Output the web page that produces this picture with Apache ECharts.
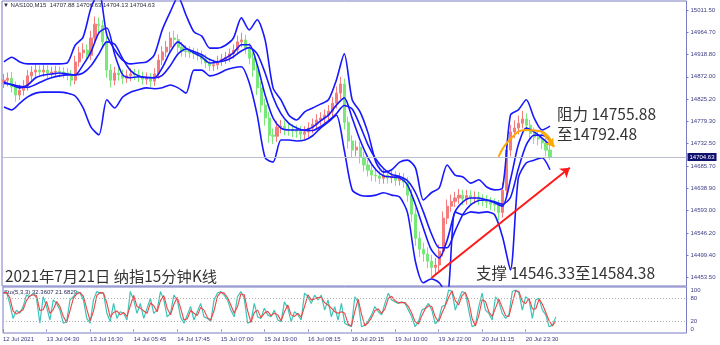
<!DOCTYPE html>
<html><head><meta charset="utf-8">
<script src="https://cdn.jsdelivr.net/npm/echarts@6/dist/echarts.min.js"></script>
<style>html,body{margin:0;padding:0;background:#fff;}#c{width:720px;height:345px;}</style>
</head><body><div id="c"></div>
<script>
// ---------- data ----------
const opens=[14860,14865,14869,14851,14834,14844,14853,14874,14882,14886,
14882,14886,14880,14882,14884,14882,14880,14876,14865,14903,
14922,14928,14917,14953,14982,14979,14945,14886,14865,14880,
14876,14869,14874,14878,14876,14872,14867,14869,14863,14878,
14907,14924,14934,14953,14950,14934,14926,14925,14922,14920,
14917,14909,14901,14895,14897,14905,14909,14913,14920,14928,
14945,14949,14932,14911,14886,14849,14813,14786,14750,14748,
14767,14769,14763,14762,14759,14758,14752,14757,14765,14773,
14782,14786,14792,14800,14817,14838,14857,14777,14738,14719,
14725,14704,14688,14677,14667,14665,14660,14667,14661,14665,
14656,14660,14652,14625,14585,14535,14512,14502,14487,14474,
14479,14508,14577,14602,14612,14619,14625,14617,14624,14618,
14621,14616,14614,14610,14606,14604,14589,14635,14719,14757,
14765,14775,14784,14771,14754,14746,14742,14734,14719];
const closes=[14865,14869,14851,14834,14844,14853,14874,14882,14886,14882,
14886,14880,14882,14884,14882,14880,14876,14865,14903,14922,
14928,14917,14953,14982,14979,14945,14886,14865,14880,14876,
14869,14874,14878,14876,14872,14867,14869,14863,14878,14907,
14924,14934,14953,14950,14934,14926,14925,14922,14920,14917,
14909,14901,14895,14897,14905,14909,14913,14920,14928,14945,
14949,14932,14911,14886,14849,14813,14786,14750,14748,14767,
14769,14763,14762,14759,14758,14752,14757,14765,14773,14782,
14786,14792,14800,14817,14838,14857,14777,14738,14719,14725,
14704,14688,14677,14667,14665,14660,14667,14661,14665,14656,
14660,14652,14625,14585,14535,14512,14502,14487,14474,14479,
14508,14577,14602,14612,14619,14625,14617,14624,14618,14621,
14616,14614,14610,14606,14604,14589,14635,14719,14757,14765,
14775,14784,14771,14754,14746,14742,14734,14719,14704.63];
const highs=[14878,14881,14882,14862,14856,14865,14886,14894,14898,14896,
14897,14896,14893,14895,14894,14892,14890,14886,14916,14935,
14942,14940,14968,14998,14996,14990,14956,14898,14893,14891,
14887,14886,14890,14889,14887,14883,14881,14880,14890,14919,
14936,14947,14966,14968,14961,14945,14938,14936,14933,14931,
14927,14919,14911,14908,14916,14920,14924,14931,14940,14958,
14964,14960,14943,14922,14898,14862,14826,14799,14764,14780,
14782,14781,14775,14773,14771,14769,14769,14777,14785,14794,
14798,14804,14813,14830,14852,14872,14868,14789,14750,14739,
14736,14716,14699,14688,14678,14676,14679,14678,14676,14675,
14672,14671,14663,14637,14598,14549,14526,14516,14500,14494,
14522,14591,14616,14626,14632,14638,14636,14636,14635,14633,
14632,14627,14625,14621,14618,14615,14651,14734,14772,14781,
14791,14801,14796,14782,14766,14758,14754,14745,14730];
const lows=[14849,14852,14839,14820,14824,14833,14843,14864,14872,14871,
14872,14869,14870,14872,14871,14869,14865,14852,14856,14893,
14910,14904,14907,14942,14964,14932,14870,14850,14854,14864,
14857,14859,14863,14865,14861,14856,14856,14851,14853,14868,
14896,14913,14924,14938,14922,14914,14913,14911,14909,14906,
14898,14890,14884,14884,14887,14895,14899,14903,14910,14918,
14934,14920,14898,14872,14834,14797,14770,14734,14732,14736,
14754,14750,14749,14746,14745,14740,14741,14746,14754,14762,
14771,14775,14781,14789,14806,14826,14762,14722,14704,14706,
14691,14674,14664,14654,14653,14648,14649,14649,14650,14644,
14645,14640,14611,14569,14519,14496,14486,14472,14456,14460,
14466,14497,14564,14590,14600,14607,14604,14605,14606,14607,
14604,14602,14598,14594,14591,14572,14578,14624,14706,14744,
14752,14764,14758,14739,14732,14729,14721,14706,14699];
// band lines, one value every second candle
const upperBand=[14903,14913,14903,14899,14899,14899,14899,14899,14901,14938,
14955,15016,15049,14959,14928,14907,14899,14901,14903,14918,
14970,15007,15039,15001,14966,14957,14932,14932,14938,14953,
14995,14970,14991,14949,14849,14824,14792,14782,14799,14807,
14815,14824,14865,14920,14824,14799,14755,14694,14673,14678,
14694,14698,14682,14615,14630,14640,14688,14667,14663,14650,
14657,14642,14636,14640,14792,14803,14824,14786,14761,14769];
const midLine=[14861,14855,14849,14855,14870,14876,14878,14880,14878,14876,
14897,14924,14964,14974,14918,14876,14870,14872,14870,14870,
14891,14924,14945,14932,14922,14913,14901,14903,14911,14922,
14939,14939,14897,14834,14786,14765,14761,14761,14761,14767,
14780,14792,14813,14828,14786,14740,14703,14678,14665,14663,
14661,14646,14605,14556,14511,14494,14531,14590,14611,14619,
14619,14615,14609,14602,14657,14730,14765,14757,14744,14730];
const slowLine=[14858,14856,14852,14850,14856,14864,14870,14874,14876,14876,
14880,14895,14920,14945,14940,14910,14885,14874,14871,14870,
14875,14895,14920,14930,14925,14918,14908,14903,14906,14914,
14926,14933,14920,14880,14830,14795,14775,14765,14760,14760,
14768,14780,14795,14812,14805,14770,14730,14700,14680,14668,
14664,14655,14630,14590,14545,14515,14515,14550,14585,14605,
14614,14615,14611,14606,14620,14680,14730,14750,14750,14742];
const lowerBand=[14809,14803,14817,14830,14838,14840,14840,14840,14838,14832,
14807,14767,14751,14824,14807,14830,14840,14845,14849,14847,
14849,14855,14849,14838,14886,14886,14874,14878,14886,14891,
14893,14859,14792,14703,14694,14740,14740,14738,14740,14749,
14765,14778,14792,14719,14636,14625,14623,14625,14630,14625,
14621,14588,14486,14442,14450,14442,14417,14590,14584,14590,
14588,14590,14584,14538,14469,14661,14692,14698,14703,14678];
const stochK=[92,96,66,28,49,41,58,87,83,92,79,16,83,58,24,75,66,49,16,20,
75,83,96,92,75,28,16,75,96,92,92,41,20,66,28,45,41,24,96,75,
41,66,28,54,79,41,49,96,75,32,41,87,75,32,16,37,58,24,45,66,
32,28,20,75,92,96,87,75,49,32,83,96,79,16,20,66,32,28,54,37,
32,49,24,20,70,54,20,45,37,24,92,83,66,87,75,87,49,75,32,58,
24,66,16,11,7,83,70,7,11,22,37,58,45,37,66,92,75,70,66,70,
66,49,32,7,20,49,54,66,49,14,24,58,62,100,96,49,75,96,92,49,
7,11,58,92,49,41,24,83,70,41,28,37,96,100,92,49,83,75,28,75,
79,49,37,7,11,32];
const stochD=[92,94,81,47,39,45,50,73,85,88,86,48,50,71,41,50,71,58,33,18,
48,79,90,94,84,52,22,46,86,94,92,67,31,43,47,37,43,33,60,86,
58,54,47,41,67,60,45,73,86,54,37,64,81,54,24,27,48,41,35,56,
49,30,24,48,84,94,92,81,62,41,58,90,88,48,18,43,49,30,41,46,
35,41,37,22,45,62,37,33,41,31,58,88,75,77,81,81,68,62,54,45,
41,45,41,14,9,45,77,39,9,17,30,48,52,41,52,79,84,73,68,68,
68,58,41,20,14,35,52,60,58,32,19,41,60,81,98,73,62,86,94,71,
28,9,35,75,71,45,33,54,77,56,35,33,67,98,96,71,66,79,52,52,
77,64,43,22,9,22];
const priceTicks=[15011.5,14964.7,14918.8,14872.0,14825.2,14779.3,14732.5,14685.7,14638.9,14593.0,14546.2,14499.4,14453.5];
const stochTicks=[0,20,80,100];
const stochLevels=[20,80];
const timeLabels=['12 Jul 2021','13 Jul 04:30','13 Jul 16:30','14 Jul 05:45','14 Jul 17:45','15 Jul 07:00','15 Jul 19:00','16 Jul 08:15','16 Jul 20:15','19 Jul 10:00','19 Jul 22:00','20 Jul 11:15','20 Jul 23:30'];
const bidPrice=14704.63;
const arrowFrom=[108,14452], arrowTo=[143,14682];
const arcIdx=[125,128,132,136,139];
const arcPrice=[14705,14742,14761,14757,14726];
const headerText='\u25BC NAS100,M15  14707.88 14706.63 14704.13 14704.63';
const stochText='Sto(5,3,3) 32.3607 21.6829';
const titleText='2021年7月21日 纳指15分钟K线';
const resistText=['阻力 14755.88','至14792.48'];
const supportText='支撑 14546.33至14584.38';

// ---------- chart ----------
const N_MAIN=173, N_STO=205, STEP=13;
const mainCats=Array.from({length:N_MAIN},(_,i)=>String(i));
const stoCats=Array.from({length:N_STO},(_,j)=>(j%STEP===0&&j/STEP<timeLabels.length)?timeLabels[j/STEP]:'');
const candleData=closes.map((c,i)=>[opens[i],c,lows[i],highs[i]]);
const every2=a=>a.map((v,k)=>[2*k,v]);
const blue={color:'#1818ff',width:1.6};
const axisTxt='#3c3c84';
const chart=echarts.init(document.getElementById('c'),null,{renderer:'canvas'});
chart.setOption({
  animation:false,
  backgroundColor:'#ffffff',
  grid:[
    {left:2,right:33.5,top:1,bottom:59,show:true,borderColor:'#7a7ac4',borderWidth:1,backgroundColor:'transparent'},
    {left:2,right:33.5,top:287,bottom:12,show:true,borderColor:'#7a7ac4',borderWidth:1,backgroundColor:'transparent'}
  ],
  xAxis:[
    {type:'category',gridIndex:0,data:mainCats,boundaryGap:true,show:false},
    {type:'category',gridIndex:1,data:stoCats,boundaryGap:false,
     axisLine:{show:false},
     axisTick:{show:true,length:2,lineStyle:{color:'#7a7ac4'},interval:(i)=>i%STEP===0&&i/STEP<timeLabels.length},
     axisLabel:{interval:0,align:'left',margin:3,fontSize:6,color:axisTxt,fontFamily:'Liberation Sans'},
     splitLine:{show:false}}
  ],
  yAxis:[
    {type:'value',gridIndex:0,position:'right',min:14435.3,max:15030.3,
     axisLine:{show:false},splitLine:{show:false},
     axisTick:{show:true,length:2,customValues:priceTicks,lineStyle:{color:'#7a7ac4'}},
     axisLabel:{customValues:priceTicks,formatter:v=>v.toFixed(2),fontSize:6,color:axisTxt,margin:4,fontFamily:'Liberation Sans'}},
    {type:'value',gridIndex:1,position:'right',min:-8.9,max:107.6,
     axisLine:{show:false},splitLine:{show:false},
     axisTick:{show:false},
     axisLabel:{customValues:stochTicks,fontSize:6,color:axisTxt,margin:4,fontFamily:'Liberation Sans'}}
  ],
  series:[
    {type:'candlestick',xAxisIndex:0,yAxisIndex:0,data:candleData,barWidth:2.6,z:2,
     itemStyle:{color:'#f47c7c',color0:'#78e878',borderColor:'#f47c7c',borderColor0:'#78e878',borderWidth:1},
     markLine:{silent:true,symbol:['none','arrow'],symbolSize:9,label:{show:false},
       lineStyle:{color:'#ff1a1a',width:2,type:'solid'},
       data:[[{coord:arrowFrom},{coord:arrowTo}]]}},
    {type:'line',xAxisIndex:0,yAxisIndex:0,data:every2(upperBand),showSymbol:false,smooth:0.25,lineStyle:blue,z:3},
    {type:'line',xAxisIndex:0,yAxisIndex:0,data:every2(midLine),showSymbol:false,smooth:0.25,lineStyle:blue,z:3,
     markLine:{silent:true,symbol:['none','none'],
       lineStyle:{color:'#b8bfd0',width:1,type:'solid'},
       label:{show:true,position:'end',distance:1,formatter:()=>bidPrice.toFixed(2),color:'#ffffff',backgroundColor:'#10106e',fontSize:6,padding:[1,2,1,2],fontFamily:'Liberation Sans'},
       data:[{yAxis:bidPrice}]}},
    {type:'line',xAxisIndex:0,yAxisIndex:0,data:every2(slowLine),showSymbol:false,smooth:0.25,lineStyle:blue,z:3},
    {type:'line',xAxisIndex:0,yAxisIndex:0,data:every2(lowerBand),showSymbol:false,smooth:0.25,lineStyle:blue,z:3},
    {type:'line',xAxisIndex:0,yAxisIndex:0,data:arcIdx.map((x,i)=>[x,arcPrice[i]]),showSymbol:false,smooth:true,
     lineStyle:{color:'#ffa800',width:2},z:5,
     markLine:{silent:true,symbol:['none','arrow'],symbolSize:8,label:{show:false},
       lineStyle:{color:'#ffa800',width:2,type:'solid'},
       data:[[{coord:[arcIdx[3],arcPrice[3]]},{coord:[arcIdx[4],arcPrice[4]]}]]}},
    {type:'line',xAxisIndex:1,yAxisIndex:1,data:stochK,showSymbol:false,lineStyle:{color:'#3cc4b8',width:1.2},z:3,
     markLine:{silent:true,symbol:['none','none'],label:{show:false},
       lineStyle:{color:'#b0b0b0',width:1,type:[1,2]},
       data:stochLevels.map(v=>({yAxis:v}))}},
    {type:'line',xAxisIndex:1,yAxisIndex:1,data:stochD,showSymbol:false,lineStyle:{color:'#ee4444',width:1.1},z:4}
  ],
  graphic:[
    {type:'text',left:3,top:2,style:{text:headerText,font:'6px "Liberation Sans"',fill:'#2a2a3a'}},
    {type:'text',left:4,top:289,style:{text:stochText,font:'6px "Liberation Sans"',fill:'#2a2a5a'}},
    {type:'text',left:5,top:269,style:{text:titleText,font:'15.3px "Noto Sans CJK SC"',fill:'#333333'}},
    {type:'text',left:557,top:106,style:{text:resistText[0],font:'15.5px "Noto Sans CJK SC"',fill:'#333333'}},
    {type:'text',left:557,top:126,style:{text:resistText[1],font:'15.5px "Noto Sans CJK SC"',fill:'#333333'}},
    {type:'text',left:476,top:265,style:{text:supportText,font:'15.5px "Noto Sans CJK SC"',fill:'#333333'}}
  ]
});
</script></body></html>
